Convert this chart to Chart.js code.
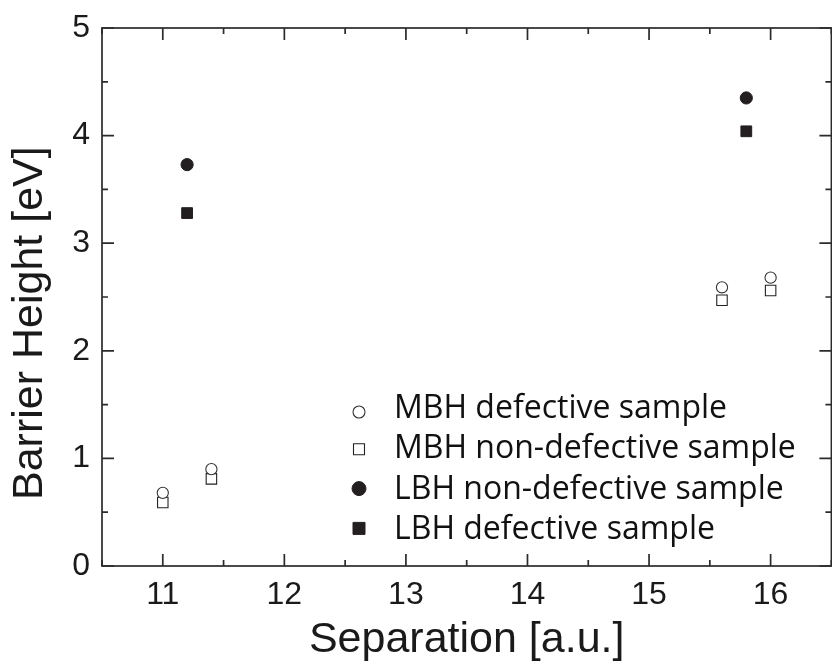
<!DOCTYPE html>
<html><head><meta charset="utf-8">
<script src="https://cdn.jsdelivr.net/npm/chart.js@4.4.0/dist/chart.umd.min.js"></script>
<style>
html,body{margin:0;padding:0;background:#fff;overflow:hidden;}
#wrap{position:relative;width:840px;height:662px;}
</style></head><body>
<div id="wrap"><canvas id="c" width="840" height="662"></canvas></div>
<script>
// ---- data ----
const xTickValues = [11, 12, 13, 14, 15, 16];
const xMinorValues = [10.5, 11.5, 12.5, 13.5, 14.5, 15.5, 16.5];
const yTickValues = [0, 1, 2, 3, 4, 5];
const yMinorValues = [0.5, 1.5, 2.5, 3.5, 4.5];

const mbhDefX = [11.0, 11.4, 15.6, 16.0];
const mbhDefY = [0.68, 0.90, 2.59, 2.68];
const mbhNonX = [11.0, 11.4, 15.6, 16.0];
const mbhNonY = [0.59, 0.81, 2.47, 2.56];
const lbhNonX = [11.2, 15.8];
const lbhNonY = [3.73, 4.35];
const lbhDefX = [11.2, 15.8];
const lbhDefY = [3.28, 4.04];

const labels = ['MBH defective sample', 'MBH non-defective sample', 'LBH non-defective sample', 'LBH defective sample'];
const xTitle = 'Separation [a.u.]';
const yTitle = 'Barrier Height [eV]';

const toPts = (xs, ys) => xs.map((x, i) => ({x: x, y: ys[i]}));
const INK = '#231f20';

const datasets = [
  {label: labels[0], data: toPts(mbhDefX, mbhDefY), pointStyle: 'circle', pointRadius: 5.6, backgroundColor: '#fff', borderColor: '#333', borderWidth: 1.1},
  {label: labels[1], data: toPts(mbhNonX, mbhNonY), pointStyle: 'rect', pointRadius: 7.4, backgroundColor: '#fff', borderColor: '#222', borderWidth: 1.1},
  {label: labels[2], data: toPts(lbhNonX, lbhNonY), pointStyle: 'circle', pointRadius: 6.1, backgroundColor: INK, borderColor: INK, borderWidth: 1},
  {label: labels[3], data: toPts(lbhDefX, lbhDefY), pointStyle: 'rect', pointRadius: 7.6, backgroundColor: INK, borderColor: INK, borderWidth: 1}
];

const framePlugin = {
  id: 'frame',
  afterDraw(chart) {
    const ctx = chart.ctx, a = chart.chartArea;
    const xs = chart.scales.x, ys = chart.scales.y;
    ctx.save();
    ctx.strokeStyle = '#2b2b2b';
    ctx.lineWidth = 1.7;
    ctx.strokeRect(a.left, a.top, a.right - a.left, a.bottom - a.top);
    const major = 12, minor = 6;
    ctx.beginPath();
    const xt = (v, len) => {
      const p = xs.getPixelForValue(v);
      ctx.moveTo(p, a.bottom); ctx.lineTo(p, a.bottom - len);
      ctx.moveTo(p, a.top); ctx.lineTo(p, a.top + len);
    };
    const yt = (v, len) => {
      const p = ys.getPixelForValue(v);
      ctx.moveTo(a.left, p); ctx.lineTo(a.left + len, p);
      ctx.moveTo(a.right, p); ctx.lineTo(a.right - len, p);
    };
    xTickValues.forEach(v => xt(v, major));
    xMinorValues.forEach(v => xt(v, minor));
    yTickValues.forEach(v => yt(v, major));
    yMinorValues.forEach(v => yt(v, minor));
    ctx.stroke();

    // y axis title
    ctx.save();
    ctx.translate(30, 500);
    ctx.rotate(-Math.PI / 2);
    ctx.font = '43px "Liberation Sans"';
    ctx.fillStyle = '#1a1a1a';
    ctx.textAlign = 'left';
    ctx.textBaseline = 'middle';
    ctx.fillText(yTitle, 0, 0);
    ctx.restore();

    // legend
    const lx = 359, tx = 394, base0 = 418, step = 40.3;
    const offs = [6, 9, 10, 10.5];
    ctx.font = '32px "Open Sans"';
    ctx.fillStyle = '#111';
    ctx.textBaseline = 'alphabetic';
    ctx.textAlign = 'left';
    chart.data.datasets.forEach((ds, i) => {
      const b = base0 + i * step;
      ctx.fillText(ds.label, tx, b);
      const cy = b - offs[i];
      ctx.beginPath();
      ctx.fillStyle = ds.backgroundColor;
      ctx.strokeStyle = ds.borderColor;
      ctx.lineWidth = ds.borderWidth;
      if (ds.pointStyle === 'circle') {
        const r = i === 2 ? 7 : 6;
        ctx.arc(lx, cy, r, 0, Math.PI * 2);
      } else {
        const s = i === 3 ? 12 : 11;
        ctx.rect(lx - s / 2, cy - s / 2, s, s);
      }
      ctx.fill(); ctx.stroke();
      ctx.fillStyle = '#111';
    });
    ctx.restore();
  }
};

new Chart(document.getElementById('c'), {
  type: 'scatter',
  data: {datasets: datasets},
  options: {
    responsive: false,
    animation: false,
    events: [],
    layout: {padding: {top: 28, right: 3, left: 0, bottom: 0}},
    plugins: {legend: {display: false}, tooltip: {enabled: false}},
    scales: {
      x: {
        type: 'linear', min: 10.5, max: 16.5,
        grid: {display: false, drawTicks: false},
        border: {display: false},
        afterBuildTicks: s => { s.ticks = xTickValues.map(v => ({value: v})); },
        afterFit: s => { s.height = 96; s.paddingLeft = 0; s.paddingRight = 0; },
        ticks: {font: {family: '"Liberation Sans Narrow", "Liberation Sans"', size: 32}, color: '#1a1a1a', padding: 10, maxRotation: 0, autoSkip: false},
        title: {display: true, text: xTitle, font: {family: '"Liberation Sans"', size: 43, lineHeight: 1}, color: '#1a1a1a', padding: {top: 0, bottom: 0}}
      },
      y: {
        type: 'linear', min: 0, max: 5,
        grid: {display: false, drawTicks: false},
        border: {display: false},
        afterBuildTicks: s => { s.ticks = yTickValues.map(v => ({value: v})); },
        afterFit: s => { s.width = 102; s.paddingTop = 0; s.paddingBottom = 0; },
        ticks: {font: {family: '"Liberation Sans Narrow", "Liberation Sans"', size: 32}, color: '#1a1a1a', padding: 12},
        title: {display: false}
      }
    }
  },
  plugins: [framePlugin]
});
</script>
</body></html>
